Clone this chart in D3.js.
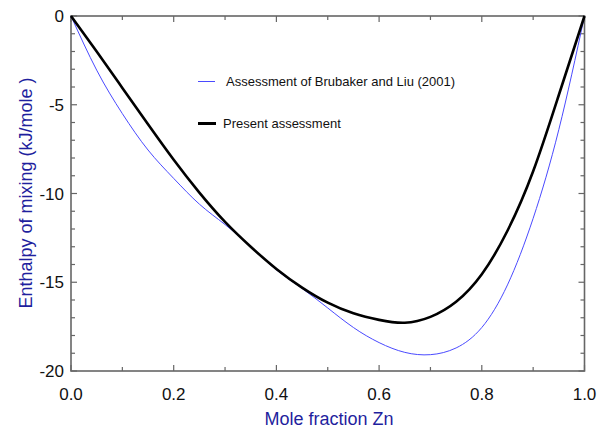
<!DOCTYPE html>
<html>
<head>
<meta charset="utf-8">
<script src="https://cdn.jsdelivr.net/npm/d3@7"></script>
<style>
  body { margin: 0; background: #fff; }
  svg { font-family: "Liberation Sans", Arial, sans-serif; }
</style>
</head>
<body>
<svg id="chart" width="600" height="429"></svg>
<script>
// mole fraction Zn
var xFrac = [0, 0.05, 0.1, 0.15, 0.2, 0.25, 0.3, 0.35, 0.4, 0.45, 0.5, 0.55, 0.6, 0.65, 0.7, 0.75, 0.8, 0.85, 0.9, 0.95, 1.0];
// enthalpy of mixing, kJ/mole
var brubaker = [0, -3.05, -5.5, -7.55, -9.15, -10.6, -11.75, -13.0, -14.3, -15.35, -16.45, -17.55, -18.4, -18.95, -19.08, -18.7, -17.55, -15.15, -11.4, -6.4, 0];
var present = [0, -2.0, -4.05, -6.1, -8.1, -9.95, -11.6, -13.0, -14.25, -15.3, -16.15, -16.75, -17.12, -17.28, -16.95, -16.1, -14.55, -12.1, -8.75, -4.45, 0];

var xTicks = [0, 0.2, 0.4, 0.6, 0.8, 1.0];
var yTicks = [0, -5, -10, -15, -20];

var svg = d3.select('#chart');
var plotL = 71, plotR = 584.5, plotT = 16, plotB = 371;

var x = d3.scaleLinear().domain([0, 1]).range([plotL, plotR]);
var y = d3.scaleLinear().domain([-20, 0]).range([plotB, plotT]);

var axisColor = '#666';
var titleColor = '#1f1f9e';

// ticks on all four sides, pointing inward
var xMinor = d3.range(0, 1.0001, 0.1);
var yMinor = d3.range(-20, 0.0001, 1);
var g = svg.append('g').attr('stroke', axisColor).attr('stroke-width', 1.2);

xMinor.forEach(function (v, i) {
    var len = (i % 2 === 0) ? 6 : 4;
    g.append('line').attr('x1', x(v)).attr('x2', x(v)).attr('y1', plotB).attr('y2', plotB - len);
    g.append('line').attr('x1', x(v)).attr('x2', x(v)).attr('y1', plotT).attr('y2', plotT + len);
});
yMinor.forEach(function (v, i) {
    var len = (i % 5 === 0) ? 6 : 4;
    g.append('line').attr('x1', plotL).attr('x2', plotL + len).attr('y1', y(v)).attr('y2', y(v));
    g.append('line').attr('x1', plotR).attr('x2', plotR - len).attr('y1', y(v)).attr('y2', y(v));
});

// frame
svg.append('rect')
    .attr('x', plotL).attr('y', plotT)
    .attr('width', plotR - plotL).attr('height', plotB - plotT)
    .attr('fill', 'none').attr('stroke', axisColor).attr('stroke-width', 1.6);

// tick labels
svg.append('g').selectAll('text').data(xTicks).join('text')
    .attr('x', d => x(d)).attr('y', plotB + 29)
    .attr('text-anchor', 'middle')
    .attr('font-size', 17).attr('fill', '#111')
    .text(d => d3.format('.1f')(d));

svg.append('g').selectAll('text').data(yTicks).join('text')
    .attr('x', plotL - 7).attr('y', d => y(d) + 6)
    .attr('text-anchor', 'end')
    .attr('font-size', 17).attr('fill', '#111')
    .text(d => d);

// axis titles
svg.append('text')
    .attr('x', 329).attr('y', 425)
    .attr('text-anchor', 'middle')
    .attr('font-size', 18).attr('fill', titleColor)
    .text('Mole fraction Zn');

svg.append('text')
    .attr('transform', 'translate(32,193) rotate(-90)')
    .attr('text-anchor', 'middle')
    .attr('font-size', 18).attr('fill', titleColor)
    .text('Enthalpy of mixing (kJ/mole )');

// curves
var line = d3.line()
    .x(d => x(d[0]))
    .y(d => y(d[1]))
    .curve(d3.curveNatural);

svg.append('path')
    .datum(xFrac.map((v, i) => [v, brubaker[i]]))
    .attr('d', line)
    .attr('fill', 'none').attr('stroke', '#4a4aff').attr('stroke-width', 1);

svg.append('path')
    .datum(xFrac.map((v, i) => [v, present[i]]))
    .attr('d', line)
    .attr('fill', 'none').attr('stroke', '#000').attr('stroke-width', 2.6);

// legend
var legend = svg.append('g');
legend.append('line').attr('x1', 198).attr('x2', 215).attr('y1', 81.5).attr('y2', 81.5)
    .attr('stroke', '#4a4aff').attr('stroke-width', 1);
legend.append('text').attr('x', 226).attr('y', 86).attr('font-size', 13).attr('fill', '#111')
    .text('Assessment of Brubaker and Liu (2001)');
legend.append('line').attr('x1', 198).attr('x2', 216).attr('y1', 123.5).attr('y2', 123.5)
    .attr('stroke', '#000').attr('stroke-width', 3);
legend.append('text').attr('x', 223).attr('y', 128).attr('font-size', 13).attr('fill', '#111')
    .text('Present assessment');
</script>
</body>
</html>
